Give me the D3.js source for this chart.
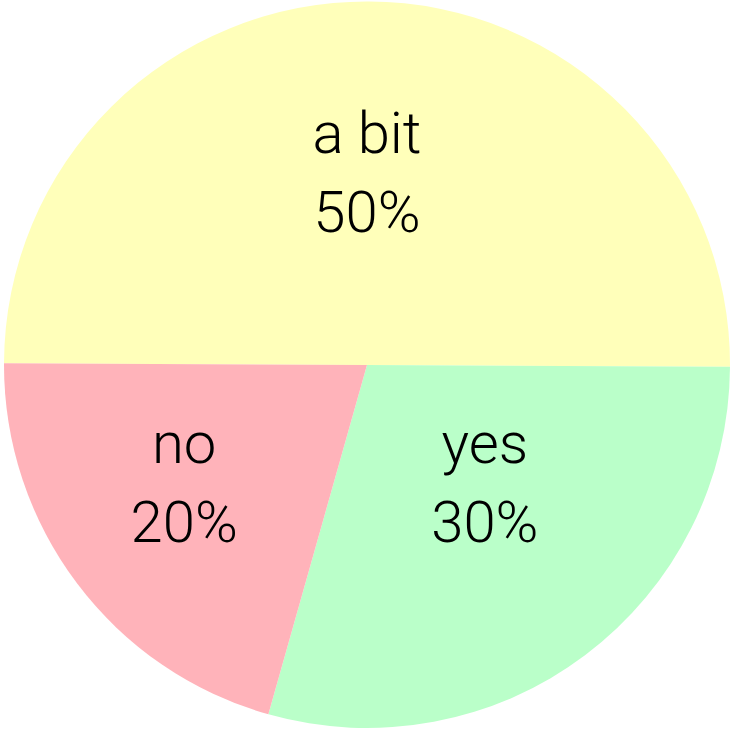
<!DOCTYPE html>
<html>
<head>
<meta charset="utf-8">
<script src="https://cdn.jsdelivr.net/npm/d3@7"></script>
<style>
  html, body { margin: 0; padding: 0; background: #ffffff; }
  svg { display: block; }
</style>
</head>
<body>
<svg id="chart" width="731" height="731"></svg>
<script>
// Data
const categories = ["a bit", "yes", "no"];
const values = [50, 29.3, 20.7];
const percentLabels = ["50%", "30%", "20%"];
const colors = ["#ffffba", "#baffc9", "#ffb3ba"];

const width = 731, height = 731;
const cx = 367, cy = 365, R = 363;

const svg = d3.select("#chart");
const g = svg.append("g").attr("transform", `translate(${cx},${cy})`);

const data = categories.map((c, i) => ({ category: c, value: values[i], label: percentLabels[i] }));

const color = d3.scaleOrdinal().domain(categories).range(colors);

const start = -Math.PI / 2 + 0.005;
const pie = d3.pie().sort(null).value(d => d.value)
  .startAngle(start).endAngle(start + 2 * Math.PI);

const arcs = pie(data);
const arc = d3.arc().innerRadius(0).outerRadius(R);

g.selectAll("path.slice")
  .data(arcs)
  .join("path")
  .attr("class", "slice")
  .attr("d", arc)
  .attr("fill", d => color(d.data.category));

// label placement: polar position relative to slice mid-angle
const labelTweak = {
  "a bit": { r: 0.526, da: -0.3 },
  "yes":   { r: 0.461, da: -7.8 },
  "no":    { r: 0.601, da: 3.9 }
};

const labels = g.selectAll("text.lbl")
  .data(arcs)
  .join("text")
  .attr("class", "lbl")
  .attr("text-anchor", "middle")
  .attr("font-family", "Roboto, 'Open Sans', sans-serif")
  .attr("font-weight", 300)
  .attr("font-size", 58)
  .attr("fill", "#000")
  .attr("transform", d => {
    const t = labelTweak[d.data.category];
    const a = (d.startAngle + d.endAngle) / 2 + t.da * Math.PI / 180;
    const rr = t.r * R;
    return `translate(${rr * Math.sin(a)},${-rr * Math.cos(a)})`;
  });

labels.append("tspan").attr("x", 0).attr("y", -21).text(d => d.data.category);
labels.append("tspan").attr("x", 0).attr("y", 58).text(d => d.data.label);
</script>
</body>
</html>
